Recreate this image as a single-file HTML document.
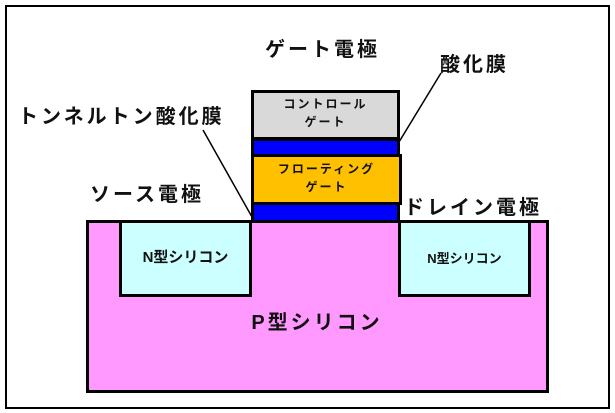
<!DOCTYPE html>
<html><head><meta charset="utf-8"><style>
body{margin:0;width:615px;height:413px;background:#fff;position:relative;overflow:hidden;font-family:"Liberation Sans","Noto Sans CJK JP",sans-serif;font-weight:bold;color:#111}
div{position:absolute;box-sizing:border-box}
.t{white-space:nowrap}
.L{font-size:20px;letter-spacing:3px}
</style></head><body>
<div style="left:5px;top:5px;width:605px;height:404px;border:2px solid #000"></div>
<div style="left:86px;top:220px;width:463px;height:173px;background:#ff99ff;border:3px solid #000"></div>
<div style="left:119px;top:220px;width:133px;height:77px;background:#ccffff;border:3px solid #000"></div>
<div style="left:398px;top:220px;width:133px;height:77px;background:#ccffff;border:3px solid #000"></div>
<div class="t" style="left:119px;top:246px;width:133px;text-align:center;font-size:15px">N型シリコン</div>
<div class="t" style="left:398px;top:248px;width:133px;text-align:center;font-size:13px">N型シリコン</div>
<div class="t" style="left:200px;top:306px;width:234px;text-align:center;font-size:20px;letter-spacing:3px">P型シリコン</div>
<div style="left:251px;top:90px;width:149px;height:50px;background:#d9d9d9;border:3px solid #000"></div>
<div style="left:251px;top:138px;width:149px;height:19px;background:#0000ff;border:3px solid #000"></div>
<div style="left:251px;top:154px;width:151px;height:51px;background:#ffc000;border:3px solid #000"></div>
<div style="left:251px;top:202px;width:149px;height:21px;background:#0000ff;border:3px solid #000"></div>
<div class="t" style="left:251px;top:95px;width:149px;text-align:center;font-size:12px;letter-spacing:2px;line-height:18px">コントロール<br>ゲート</div>
<div class="t" style="left:251px;top:160px;width:151px;text-align:center;font-size:12px;letter-spacing:2px;line-height:18px">フローティング<br>ゲート</div>
<svg width="615" height="413" style="position:absolute;left:0;top:0">
<line x1="203" y1="130" x2="252" y2="217" stroke="#000" stroke-width="1.5"/>
<line x1="441" y1="73" x2="399" y2="142" stroke="#000" stroke-width="1.5"/>
</svg>
<div class="t L" style="left:265px;top:33px">ゲート電極</div>
<div class="t L" style="left:440px;top:48px">酸化膜</div>
<div class="t L" style="left:18px;top:100px">トンネルトン酸化膜</div>
<div class="t L" style="left:90px;top:178px">ソース電極</div>
<div class="t L" style="left:404px;top:191px">ドレイン電極</div>
</body></html>
